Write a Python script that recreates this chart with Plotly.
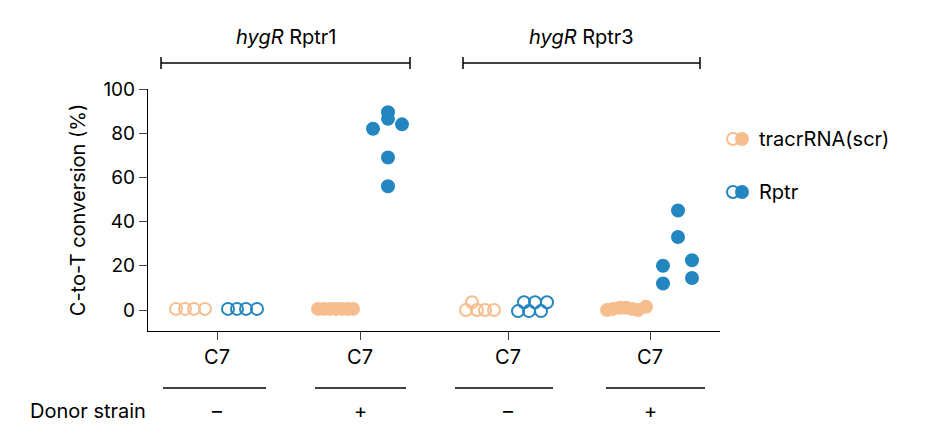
import plotly.graph_objects as go

ORANGE = "#F6BE8E"
BLUE = "#2386C0"
FONT = "Inter"

groups = ["C7", "C7", "C7", "C7"]
donor = ["–", "+", "–", "+"]
reporters = ["Rptr1", "Rptr3"]

# y values (C-to-T conversion %) per group
tracr_vals = [[0.5, 0.5, 0.5, 0.5],
              [0.5, 0.5, 0.5, 0.5, 0.5, 0.5, 0.5],
              [3.5, 0, 0, 0, 0],
              [0, 0.5, 1, 1, 0.5, 0, 1.5]]
rptr_vals = [[0.5, 0.5, 0.5, 0.5],
             [82, 89.5, 86.5, 69, 56, 84],
             [3.5, 3.5, 3.5, -0.5, -0.5, -0.5],
             [20, 12, 45, 33, 22.5, 14.5]]
filled = [False, True, False, True]

# layout-only: group centers and beeswarm offsets (px units on the x axis)
centers = [209, 352, 500, 642]
tracr_off = [[-41, -32, -23, -12],
             [-42, -36, -30, -24, -18, -12, -7],
             [-36, -42, -31, -23, -14],
             [-43, -37, -30, -24, -18, -12, -4]]
rptr_off = [[11, 20, 29, 40],
            [13, 28, 28, 28, 28, 42],
            [16, 27, 39, 10, 21, 33],
            [13, 13, 28, 28, 42, 42]]

fig = go.Figure()
for i in range(4):
    sym = "circle" if filled[i] else "circle-open"
    fig.add_trace(go.Scatter(
        x=[centers[i] + o for o in tracr_off[i]], y=tracr_vals[i], mode="markers",
        marker=dict(symbol=sym, size=12, color=ORANGE, line=dict(width=2, color=ORANGE)),
        showlegend=False, hoverinfo="y"))
    fig.add_trace(go.Scatter(
        x=[centers[i] + o for o in rptr_off[i]], y=rptr_vals[i], mode="markers",
        marker=dict(symbol=sym, size=12, color=BLUE, line=dict(width=2, color=BLUE)),
        showlegend=False, hoverinfo="y"))

L, R, T, B = 140, 712, 81, 323
def px(x): return (x - L) / (R - L)
def py(y): return (B - y) / (B - T)

def text(x, y, s, size=20, xa="center"):
    return dict(xref="paper", yref="paper", x=px(x), y=py(y), text=s, showarrow=False,
                xanchor=xa, yanchor="middle",
                font=dict(size=size, family=FONT, color="black"))

shapes = []
ann = []
for a, b in [(155, 258), (307, 398), (447, 545), (598, 697)]:
    shapes.append(dict(type="line", xref="paper", yref="paper", x0=px(a), x1=px(b),
                       y0=py(380), y1=py(380), line=dict(color="black", width=1.5)))
for (a, b), name in zip([(153, 402), (455, 692)], reporters):
    shapes.append(dict(type="line", xref="paper", yref="paper", x0=px(a), x1=px(b),
                       y0=py(55), y1=py(55), line=dict(color="black", width=1.5)))
    for e in (a, b):
        shapes.append(dict(type="line", xref="paper", yref="paper", x0=px(e), x1=px(e),
                           y0=py(49), y1=py(61), line=dict(color="black", width=1.5)))
    ann.append(text((a + b) / 2, 29, f"<i>hygR</i> {name}"))
for c, d in zip(centers, donor):
    ann.append(text(c, 403, d, size=20))
ann.append(text(20, 403, "Donor strain", xa="left"))

for yy, col, label in [(131, ORANGE, "tracrRNA(scr)"), (184, BLUE, "Rptr")]:
    for cx, fill in [(725, "white"), (734, col)]:
        shapes.append(dict(type="circle", xref="paper", yref="paper", xsizemode="pixel",
                           ysizemode="pixel", xanchor=px(cx), yanchor=py(yy),
                           x0=-6, x1=6, y0=-6, y1=6, fillcolor=fill,
                           line=dict(color=col, width=2)))
    ann.append(text(749, yy, label, xa="left"))

fig.update_layout(
    width=933, height=440,
    margin=dict(l=L, r=933 - R, t=T, b=440 - B, autoexpand=False),
    plot_bgcolor="white", paper_bgcolor="white",
    font=dict(family=FONT, size=18, color="black"),
    shapes=shapes, annotations=ann,
    xaxis=dict(range=[L, R], tickvals=centers, ticktext=groups, ticks="outside",
               ticklen=8, showline=True, linecolor="black", linewidth=1.2,
               showgrid=False, zeroline=False, tickfont=dict(size=20)),
    yaxis=dict(range=[-9.5, 100], tickvals=[0, 20, 40, 60, 80, 100], ticks="outside",
               ticklen=8, showline=True, linecolor="black", linewidth=1.2,
               showgrid=False, zeroline=False, tickfont=dict(size=19),
               title=dict(text="C-to-T conversion (%)", font=dict(size=20), standoff=12)),
)
fig.write_html("out.html")
